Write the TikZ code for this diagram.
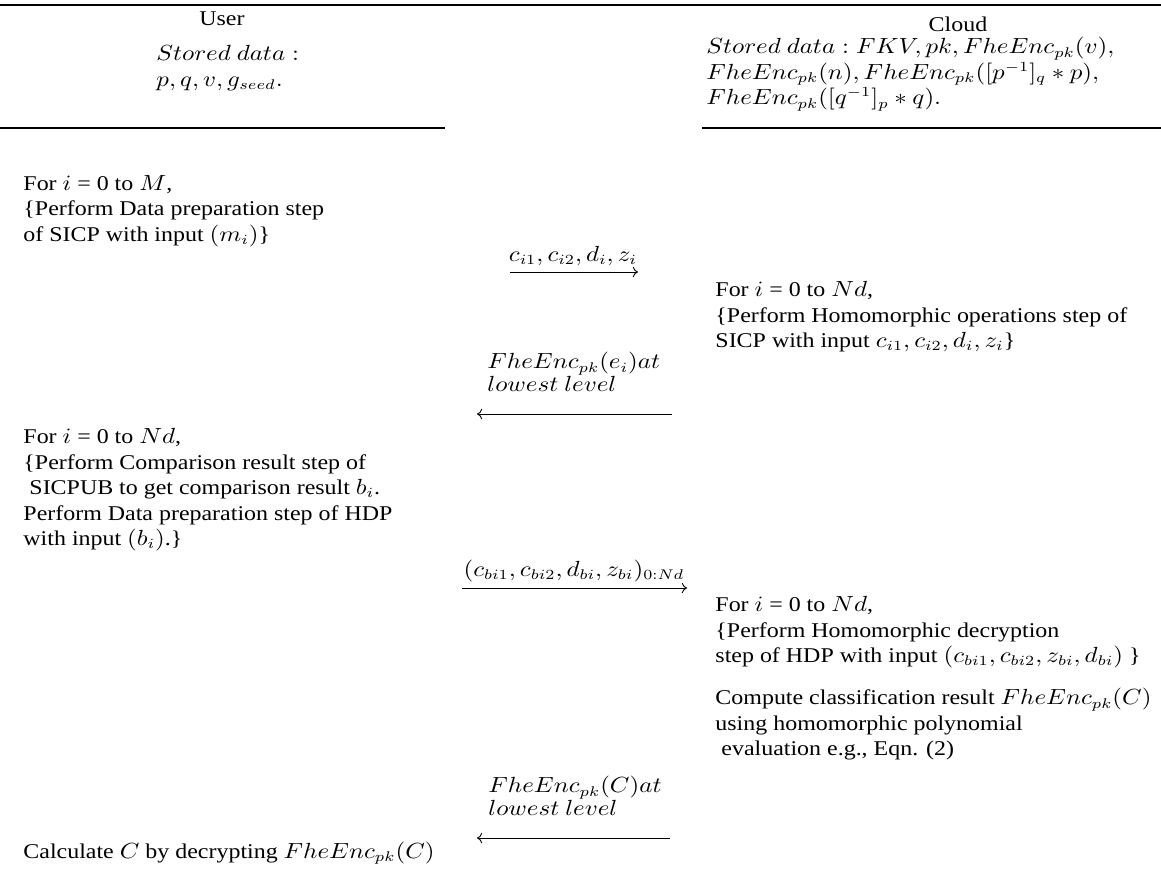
\documentclass[tikz,border=0pt]{standalone}
\usepackage{fontspec}
\setmainfont{Liberation Serif}
\usepackage{amsmath}
\usetikzlibrary{arrows.meta}

\begin{document}
\begin{tikzpicture}[
  x=0.5pt, y=-0.5pt,
  txt/.style={anchor=north west, align=left, inner sep=0pt, xscale=1.14,
              font=\fontsize{10.5}{12.75}\selectfont, execute at begin node=\strut},
  head/.style={anchor=base, inner sep=0pt, xscale=1.14,
              font=\fontsize{10.5}{12.75}\selectfont},
  lbl/.style={anchor=base, inner sep=0pt, xscale=1.14,
              font=\fontsize{10.5}{12.75}\selectfont},
  rul/.style={line width=0.7pt},
  msg/.style={-{Computer Modern Rightarrow[length=2.6pt, width=5.2pt]}, line width=0.45pt}]
  \useasboundingbox (0,0) rectangle (1161,873);
  \node[head] (user) at (222,25) {User};
  \node[txt] (userdata) at (156,45) {$Stored\ data:$\\ $p, q, v, g_{seed}.$};
  \node[head] (cloud) at (958,31) {Cloud};
  \node[txt] (clouddata) at (706,37) {$Stored\ data: FKV, pk, FheEnc_{pk}(v),$\\
    $FheEnc_{pk}(n), FheEnc_{pk}([p^{-1}]_q * p),$\\
    $FheEnc_{pk}([q^{-1}]_p * q).$};
  \coordinate (ruls) at (0,5);
  \coordinate (rule) at (1161,5);
  \coordinate (rulul) at (0,128);
  \coordinate (rulur) at (445,128);
  \coordinate (rulcl) at (702,128);
  \coordinate (rulcr) at (1161,128);
  \draw[rul] (ruls) -- (rule);
  \draw[rul] (rulul) -- (rulur);
  \draw[rul] (rulcl) -- (rulcr);

  \node[txt] (prep) at (23,175) {For $i$ = 0 to $M$,\\
    \{Perform Data preparation step\\
    of SICP with input $(m_i)$\}};
  \node[txt] (homop) at (715,281) {For $i$ = 0 to $Nd$,\\
    \{Perform Homomorphic operations step of\\
    SICP with input $c_{i1}, c_{i2}, d_i, z_i$\}};
  \node[txt] (compare) at (23,428) {For $i$ = 0 to $Nd$,\\
    \{Perform Comparison result step of\\
    \ SICPUB to get comparison result $b_i$.\\
    Perform Data preparation step of HDP\\
    with input $(b_i)$.\}};
  \node[txt] (hdec) at (715,596) {For $i$ = 0 to $Nd$,\\
    \{Perform Homomorphic decryption\\
    step of HDP with input $(c_{bi1}, c_{bi2}, z_{bi}, d_{bi})$ \}};
  \node[txt] (classify) at (715,688) {Compute classification result $FheEnc_{pk}(C)$\\
    using homomorphic polynomial\\
    \ evaluation e.g., Eqn. (2)};
  \node[txt] (result) at (23,840) {Calculate $C$ by decrypting $FheEnc_{pk}(C)$};

  \coordinate (m1s) at (510,272);
  \coordinate (m1e) at (638,272);
  \coordinate (m2s) at (672,414);
  \coordinate (m2e) at (477,414);
  \coordinate (m3s) at (462,588);
  \coordinate (m3e) at (687,588);
  \coordinate (m4s) at (670,838);
  \coordinate (m4e) at (477,838);
  \node[lbl] (l1) at (573,261) {$c_{i1}, c_{i2}, d_i, z_i$};
  \node[txt] (l2) at (487,352) {$FheEnc_{pk}(e_i) at$\\[-1.25pt] $lowest\ level$};
  \node[lbl] (l3) at (574,576) {$(c_{bi1}, c_{bi2}, d_{bi}, z_{bi})_{0:Nd}$};
  \node[txt] (l4) at (488,776) {$FheEnc_{pk}(C) at$\\[-1.25pt] $lowest\ level$};
  \draw[msg] (m1s) -- (m1e);
  \draw[msg] (m2s) -- (m2e);
  \draw[msg] (m3s) -- (m3e);
  \draw[msg] (m4s) -- (m4e);
\end{tikzpicture}
\end{document}
